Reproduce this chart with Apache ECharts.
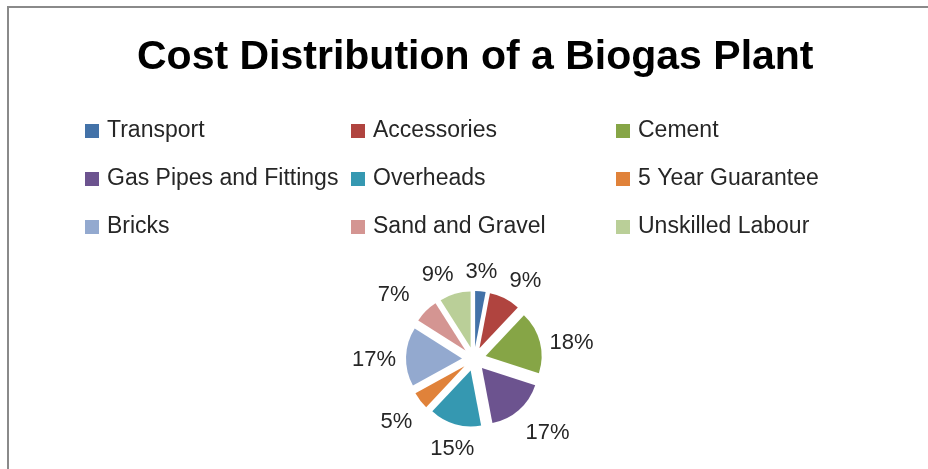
<!DOCTYPE html>
<html>
<head>
<meta charset="utf-8">
<script src="https://cdn.jsdelivr.net/npm/echarts@6/dist/echarts.min.js"></script>
<style>
html,body{margin:0;padding:0;background:#fff;}
#c{width:928px;height:469px;}
</style>
</head>
<body>
<div id="c"></div>
<script>
const categories = ['Transport','Accessories','Cement','Gas Pipes and Fittings','Overheads','5 Year Guarantee','Bricks','Sand and Gravel','Unskilled Labour'];
const values = [3, 9, 18, 17, 15, 5, 17, 7, 9];
const colors = ['#4372A8','#B0443F','#86A546','#6C538F','#3598B1','#E0823A','#93A9CF','#D49592','#BACF98'];
const legendColumns = [
  ['Transport','Gas Pipes and Fittings','Bricks'],
  ['Accessories','Overheads','Sand and Gravel'],
  ['Cement','5 Year Guarantee','Unskilled Labour']
];
const legendLefts = [85, 351, 616];
const FONT = '"Liberation Sans", Arial, sans-serif';

// pie geometry / label placement (Excel-like outside-end labels)
const CX = 474, CY = 359, RADIUS = 56, EXPLODE = 12;
const LABEL_DY = 3, R_ANCHOR = 78, LABEL_FS = 22, LABEL_H = 24, GAP = 12;

function clamp(v, a, b) { return Math.max(a, Math.min(b, v)); }
function computeLabelPositions() {
  const ctx = document.createElement('canvas').getContext('2d');
  ctx.font = LABEL_FS + 'px ' + FONT;
  const total = values.reduce((a, b) => a + b, 0);
  let acc = 0;
  const out = values.map(v => {
    const mid = (acc + v / 2) / total * 2 * Math.PI;
    acc += v;
    const s = Math.sin(mid), c = Math.cos(mid);
    const ax = CX + R_ANCHOR * s, ay = CY + LABEL_DY - R_ANCHOR * c;
    const hw = ctx.measureText(v + '%').width / 2, hh = LABEL_H / 2;
    const fx = Math.sign(s) * clamp((Math.abs(s) - 0.3) / 0.15, 0, 1);
    const fy = -Math.sign(c) * clamp((Math.abs(c) - 0.25) / 0.35, 0, 1);
    return {x: ax + hw * fx, y: ay + hh * fy, hw: hw, hh: hh, s: s};
  });
  const n = out.length;
  const clash = (a, b) => Math.abs(a.y - b.y) < a.hh + b.hh &&
    a.x - a.hw < b.x + b.hw + GAP && b.x - b.hw < a.x + a.hw + GAP;
  for (let i = n - 1; i >= 0; i--) {
    const a = out[i], b = out[(i + 1) % n];
    if (a.s < 0 && clash(a, b)) a.x = b.x - b.hw - GAP - a.hw;
  }
  for (let i = 1; i < n; i++) {
    const a = out[i], b = out[i - 1];
    if (a.s > 0 && clash(a, b)) a.x = b.x + b.hw + GAP + a.hw;
  }
  return out;
}
const labelPos = computeLabelPositions();

const pieData = categories.map((name, i) => ({name: name, value: values[i]}));

const chart = echarts.init(document.getElementById('c'), null, {renderer:'canvas'});
const option = {
  animation: false,
  color: colors,
  title: {
    text: 'Cost Distribution of a Biogas Plant',
    left: 137,
    top: 34,
    padding: 0,
    textStyle: {fontFamily: FONT, fontWeight: 'bold', fontSize: 41, color: '#000', lineHeight: 48}
  },
  graphic: [{
    type: 'rect', silent: true,
    shape: {x: 8, y: 7, width: 1000, height: 1000},
    style: {fill: 'none', stroke: '#8a8a8a', lineWidth: 2}
  }],
  legend: legendColumns.map((col, i) => ({
    orient: 'vertical',
    left: legendLefts[i],
    top: 119,
    padding: 0,
    data: col,
    icon: 'rect',
    itemWidth: 14,
    itemHeight: 14,
    itemGap: 24,
    selectedMode: false,
    textStyle: {fontFamily: FONT, fontSize: 23, color: '#262626', lineHeight: 24, padding: [0,0,0,3]}
  })),
  series: [{
    // exploded slices
    type: 'pie',
    center: [CX, CY],
    radius: RADIUS,
    startAngle: 90,
    clockwise: true,
    selectedMode: 'multiple',
    selectedOffset: EXPLODE,
    emphasis: {disabled: true},
    label: {show: false},
    labelLine: {show: false},
    data: pieData.map(d => Object.assign({selected: true}, d))
  }, {
    // percentage labels (transparent twin pie)
    type: 'pie',
    center: [CX, CY],
    radius: RADIUS,
    startAngle: 90,
    clockwise: true,
    silent: true,
    selectedMode: false,
    avoidLabelOverlap: false,
    emphasis: {disabled: true},
    itemStyle: {color: 'rgba(0,0,0,0)'},
    label: {
      show: true,
      position: 'outside',
      formatter: '{c}%',
      fontFamily: FONT,
      fontSize: LABEL_FS,
      color: '#262626'
    },
    labelLine: {show: false, length: 8, length2: 0},
    labelLayout: function (params) {
      const p = labelPos[params.dataIndex];
      return {x: p.x, y: p.y, align: 'center', verticalAlign: 'middle', hideOverlap: false};
    },
    data: pieData
  }]
};
chart.setOption(option);
</script>
</body>
</html>
